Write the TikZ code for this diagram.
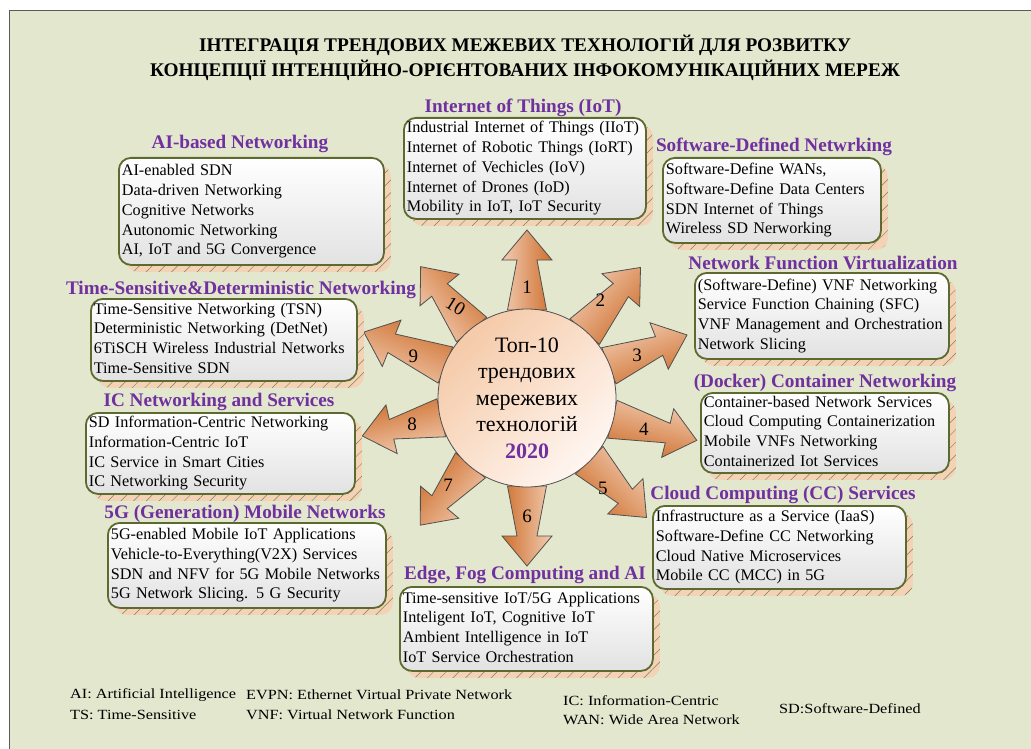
\documentclass[tikz,border=0pt]{standalone}
\usepackage{fontspec}
\setmainfont{Liberation Serif}
\newfontfamily\legendfont{Liberation Serif}[FakeStretch=1.16]
\usetikzlibrary{shadows,patterns.meta,calc}

\definecolor{bgcol}{RGB}{226,231,206}
\definecolor{framecol}{RGB}{90,90,90}
\definecolor{boxline}{RGB}{92,106,48}
\definecolor{boxbottom}{RGB}{226,226,226}
\definecolor{shadowpeach}{RGB}{244,210,182}
\definecolor{hatchcol}{RGB}{125,132,88}
\definecolor{titlepurple}{RGB}{112,48,160}
\definecolor{arrowlight}{RGB}{242,204,178}
\definecolor{arrowdark}{RGB}{206,112,46}
\definecolor{arrowedge}{RGB}{80,80,80}
\definecolor{circlepeach}{RGB}{245,202,168}
\definecolor{circlelight}{RGB}{255,246,241}

\newcommand\bodysize{\fontsize{16.2}{19.7}\selectfont}

% rounded topic box: name, left, top, right, bottom, lines
\newcommand\topicbox[6]{%
  \pgfmathsetmacro\tbW{#4-#2}%
  \pgfmathsetmacro\tbH{#5-#3}%
  \pgfmathsetmacro\tbT{#4-#2-6}%
  \node[topic, minimum width=\tbW pt, minimum height=\tbH pt, text width=\tbT pt] (#1) at (#2,#3)
    {\begin{tabular}{@{}l@{}}#6\end{tabular}};}

\begin{document}
\begin{tikzpicture}[x=1pt,y=-1pt,
  topic/.style={draw=boxline, line width=1.8pt, rounded corners=12pt,
    top color=white, bottom color=boxbottom, anchor=north west,
    inner xsep=3pt, inner ysep=0pt, align=left, font=\bodysize,
    general shadow={fill=shadowpeach, shadow xshift=7pt, shadow yshift=-7pt},
    general shadow={pattern={Lines[angle=45,distance=9pt,line width=0.5pt]},
      pattern color=hatchcol, shadow xshift=7pt, shadow yshift=-7pt}},
  topictitle/.style={anchor=base, inner sep=0pt, text=titlepurple,
    font=\fontsize{19.2}{22}\selectfont\bfseries},
  arrowshape/.style={draw=arrowedge, line width=0.8pt, left color=arrowlight, right color=arrowdark},
  arrownum/.style={inner sep=0pt, font=\fontsize{19}{19}\selectfont},
  legend/.style={anchor=base west, inner sep=0pt, font=\legendfont\fontsize{14}{16}\selectfont}]

\useasboundingbox (0,0) rectangle (1031,749);
\clip (0,0) rectangle (1031,749);
\fill[white] (0,0) rectangle (1031,749);
\draw[framecol, line width=0.9pt, fill=bgcol] (9.5,10.5) rectangle (1045,765);

% heading
\node[align=center, inner sep=0pt, font=\fontsize{19.3}{25}\selectfont\bfseries] (heading) at (525,57.5)
  {ІНТЕГРАЦІЯ ТРЕНДОВИХ МЕЖЕВИХ ТЕХНОЛОГІЙ ДЛЯ РОЗВИТКУ\\
   КОНЦЕПЦІЇ ІНТЕНЦІЙНО-ОРІЄНТОВАНИХ ІНФОКОМУНІКАЦІЙНИХ МЕРЕЖ};

% ten radiating arrows (angle / tip distance)
\foreach \a/\L in {90/168, 49/173, 21.5/172, -14/175, -45/169, -90/168, -130/166, -167/169, 158/176, 129/169} {
  \draw[arrowshape, shading angle=\a, shift={(527,398)}, rotate=\a]
    (88,19.5) -- (\L-30,10) -- (\L-30,25) -- (\L,0) -- (\L-30,-25) -- (\L-30,-10) -- (88,-19.5) -- cycle;
}

% hub
\node[circle, minimum size=178pt, inner sep=0pt, draw=arrowedge, line width=0.8pt,
  left color=circlepeach, right color=circlelight, shading angle=45] (hub) at (527,398) {};
\node[align=center, inner sep=0pt, font=\fontsize{22}{26.5}\selectfont] (hubtext) at (hub.center)
  {Топ-10\\трендових\\мережевих\\технологій\\\textcolor{titlepurple}{\bfseries 2020}};

% arrow numbers
\foreach \a/\r/\t/\rot in {90/111/1/0, 53/122/2/0, 21/118/3/0, -15/121/4/0, -50/118/5/0,
  -90/118/6/0, -132/118/7/0, -167/118/8/0, 160/121/9/0, 128/116/10/-32} {
  \node[arrownum, rotate=\rot] (num\t) at ($(527,398)+(\a:\r pt)$) {\t};
}

% topic boxes
\topicbox{ai}{118}{157}{383}{264}{AI-enabled SDN\\Data-driven Networking\\Cognitive Networks\\Autonomic Networking\\AI, IoT and 5G Convergence}
\topicbox{iot}{403}{117}{645}{218}{Industrial Internet of Things (IIoT)\\Internet of Robotic Things (IoRT)\\Internet of Vechicles (IoV)\\Internet of Drones (IoD)\\Mobility in IoT, IoT Security}
\topicbox{sdn}{662}{157}{880}{242}{Software-Define WANs,\\Software-Define Data Centers\\SDN Internet of Things\\Wireless SD Nerworking}
\topicbox{nfv}{694}{272}{948}{358}{(Software-Define) VNF Networking\\Service Function Chaining (SFC)\\VNF Management and Orchestration\\Network Slicing}
\topicbox{docker}{700}{392}{948}{472}{Container-based Network Services\\Cloud Computing Containerization\\Mobile VNFs Networking\\Containerized Iot Services}
\topicbox{cloud}{652}{505}{905}{588}{Infrastructure as a Service (IaaS)\\Software-Define CC Networking\\Cloud Native Microservices\\Mobile CC (MCC) in 5G}
\topicbox{edge}{399}{586}{652}{670}{Time-sensitive IoT/5G Applications\\Inteligent IoT, Cognitive IoT\\Ambient Intelligence in IoT\\IoT Service Orchestration}
\topicbox{fiveg}{107}{522}{385}{607}{5G-enabled Mobile IoT Applications\\Vehicle-to-Everything(V2X) Services\\SDN and NFV for 5G Mobile Networks\\5G Network Slicing. 5 G Security}
\topicbox{icn}{85}{412}{354}{493}{SD Information-Centric Networking\\Information-Centric IoT\\IC Service in Smart Cities\\IC Networking Security}
\topicbox{tsn}{90}{298}{356}{380}{Time-Sensitive Networking (TSN)\\Deterministic Networking (DetNet)\\6TiSCH Wireless Industrial Networks\\Time-Sensitive SDN}

% topic headings
\node[topictitle] (ai-t) at (240,148.5) {AI-based Networking};
\node[topictitle] (iot-t) at (523,112.5) {Internet of Things (IoT)};
\node[topictitle] (sdn-t) at (774,151.5) {Software-Defined Netwrking};
\node[topictitle] (nfv-t) at (823,269.5) {Network Function Virtualization};
\node[topictitle] (docker-t) at (825,387.5) {(Docker) Container Networking};
\node[topictitle] (cloud-t) at (783,499.5) {Cloud Computing (CC) Services};
\node[topictitle] (edge-t) at (525,579.5) {Edge, Fog Computing and AI};
\node[topictitle] (fiveg-t) at (245,518.5) {5G (Generation) Mobile Networks};
\node[topictitle] (icn-t) at (219,406.5) {IC Networking and Services};
\node[topictitle] (tsn-t) at (241,294.5) {Time-Sensitive\&Deterministic Networking};

% abbreviations
\node[legend] (lg1) at (70,698) {AI: Artificial Intelligence};
\node[legend] (lg2) at (70,719) {TS: Time-Sensitive};
\node[legend] (lg3) at (246,699) {EVPN: Ethernet Virtual Private Network};
\node[legend] (lg4) at (246,719) {VNF: Virtual Network Function};
\node[legend] (lg5) at (563,705) {IC: Information-Centric};
\node[legend] (lg6) at (563,724) {WAN: Wide Area Network};
\node[legend] (lg7) at (779,713) {SD:Software-Defined};
\end{tikzpicture}
\end{document}
